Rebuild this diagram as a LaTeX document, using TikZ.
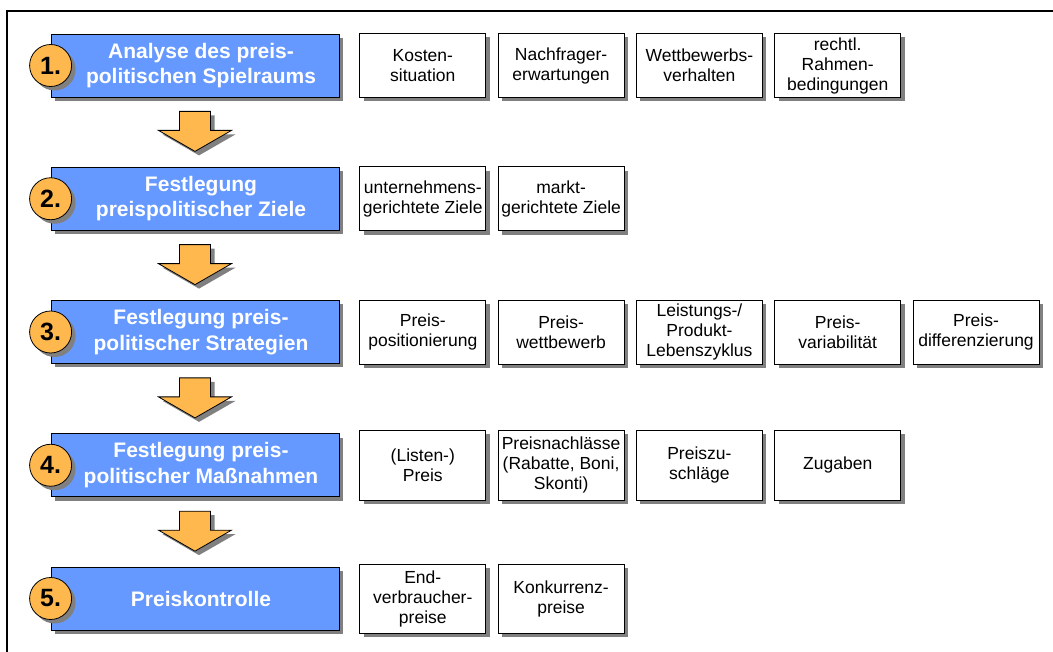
\documentclass[tikz,border=0pt]{standalone}
\usepackage{fontspec}
\setmainfont{Liberation Sans}
\usetikzlibrary{positioning,shadows}
\definecolor{stufeblau}{HTML}{6699FF}
\definecolor{pfeilorange}{HTML}{FFB84D}
\definecolor{schattengrau}{HTML}{808080}
\tikzset{
  schatten/.style={drop shadow={shadow xshift=4pt,shadow yshift=-4pt,fill=schattengrau,opacity=1}},
  stufe/.style={draw,fill=stufeblau,minimum width=288pt,minimum height=63pt,line width=0.8pt,schatten},
  stufetext/.style={text=white,align=center,font=\fontsize{21}{25.5}\selectfont\bfseries},
  nummer/.style={circle,draw,fill=pfeilorange,minimum size=42pt,inner sep=0pt,line width=0.8pt,schatten,
    font=\fontsize{25}{30}\selectfont\bfseries},
  merkmal/.style={draw,fill=white,minimum width=126pt,minimum height=64pt,inner sep=2pt,align=center,
    line width=0.8pt,schatten,font=\fontsize{17.5}{20}\selectfont},
  pfeil/.style={draw,fill=pfeilorange,line width=0.8pt,line join=miter,schatten}
}
\begin{document}
\begin{tikzpicture}[x=1pt,y=-1pt,node distance=11.5pt]
  \useasboundingbox (0,0) rectangle (1053,652);
  % Rahmen
  \draw[line width=2pt] (7.3,11) rectangle (1090,690);
  % Stufen
  \foreach \i in {1,...,5}
    \node[stufe] (s\i) at (195,{65.5+133.25*(\i-1)}) {};
  \node[stufetext] (t1) at ([xshift=6pt]s1.center) {Analyse des preis-\\politischen Spielraums};
  \node[stufetext] (t2) at ([xshift=6pt]s2.center) {Festlegung\\preispolitischer Ziele};
  \node[stufetext] (t3) at ([xshift=6pt]s3.center) {Festlegung preis-\\politischer Strategien};
  \node[stufetext] (t4) at ([xshift=6pt]s4.center) {Festlegung preis-\\politischer Ma\ss nahmen};
  \node[stufetext] (t5) at ([xshift=6pt]s5.center) {Preiskontrolle};
  \foreach \i in {1,...,5}
    \node[nummer] (n\i) at (s\i.west) {\i.};
  % Pfeile
  \foreach \i in {1,...,4}
    \draw[pfeil] ([xshift=-15.5pt,yshift=-14pt]s\i.south) -- ++(0,19) -- ++(-21,0) -- ++(36.5,21)
      -- ++(36.5,-21) -- ++(-21,0) -- ++(0,-19) -- cycle;
  % Merkmale
  \node[merkmal,right=20pt of s1] (m11) {Kosten-\\situation};
  \node[merkmal,right=of m11] (m12) {Nachfrager-\\erwartungen};
  \node[merkmal,right=of m12] (m13) {Wettbewerbs-\\verhalten};
  \node[merkmal,right=of m13] (m14) {rechtl.\\Rahmen-\\bedingungen};
  \node[merkmal,right=20pt of s2] (m21) {unternehmens-\\gerichtete Ziele};
  \node[merkmal,right=of m21] (m22) {markt-\\gerichtete Ziele};
  \node[merkmal,right=20pt of s3] (m31) {Preis-\\positionierung};
  \node[merkmal,right=of m31] (m32) {Preis-\\wettbewerb};
  \node[merkmal,right=of m32] (m33) {Leistungs-/\\Produkt-\\Lebenszyklus};
  \node[merkmal,right=of m33] (m34) {Preis-\\variabilit\"at};
  \node[merkmal,right=of m34] (m35) {Preis-\\differenzierung};
  \node[merkmal,minimum height=70pt,right=20pt of s4] (m41) {(Listen-)\\Preis};
  \node[merkmal,minimum height=70pt,right=of m41] (m42) {Preisnachl\"asse\\(Rabatte, Boni,\\Skonti)};
  \node[merkmal,minimum height=70pt,right=of m42] (m43) {Preiszu-\\schl\"age};
  \node[merkmal,minimum height=70pt,right=of m43] (m44) {Zugaben};
  \node[merkmal,minimum height=69pt,right=20pt of s5] (m51) {End-\\verbraucher-\\preise};
  \node[merkmal,minimum height=69pt,right=of m51] (m52) {Konkurrenz-\\preise};
\end{tikzpicture}
\end{document}
